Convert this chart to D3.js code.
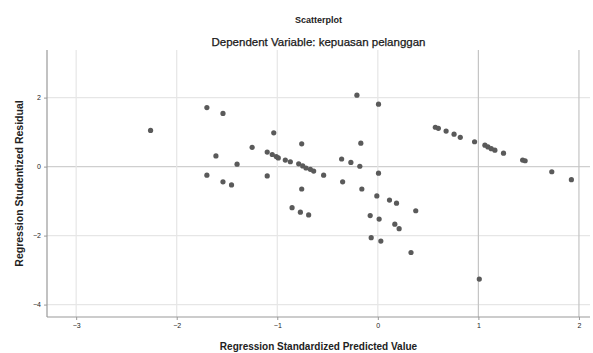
<!DOCTYPE html>
<html>
<head>
<meta charset="utf-8">
<script src="https://cdn.jsdelivr.net/npm/d3@7"></script>
<style>
  body { margin: 0; background: #fff; }
  text { font-family: "Liberation Sans", Arial, sans-serif; fill: #222; }
</style>
</head>
<body>
<div id="chart"></div>
<script>
// predicted (standardized) values and studentized residuals
const predicted = [
  -2.26, -1.70, -1.54, -1.035, -1.25, -1.61, -1.40, -1.10, -1.05, -1.01,
  -0.99, -0.92, -0.87, -0.787, -0.747, -0.714, -0.671, -0.638, -0.539, -0.757,
  -1.70, -1.54, -1.455, -1.10, -0.757, -0.36, -0.268, -0.179, -0.169, -0.208,
  0.007, 0.007, -0.35, -0.159, -0.01, 0.116, 0.186, -0.853, -0.77, -0.688,
  -0.076, 0.013, 0.169, 0.212, -0.066, 0.03, 0.33, 0.377, 1.009, 0.572,
  0.602, 0.679, 0.758, 0.82, 0.962, 1.065, 1.095, 1.128, 1.164, 1.25,
  1.44, 1.465, 1.73, 1.925
];
const residual = [
  1.05, 1.71, 1.54, 0.98, 0.56, 0.31, 0.07, 0.42, 0.35, 0.29,
  0.25, 0.19, 0.14, 0.08, 0.02, -0.04, -0.08, -0.13, -0.25, 0.66,
  -0.25, -0.44, -0.53, -0.27, -0.65, 0.22, 0.12, 0.01, 0.68, 2.07,
  1.81, -0.19, -0.44, -0.65, -0.85, -0.97, -1.06, -1.19, -1.32, -1.40,
  -1.42, -1.52, -1.67, -1.80, -2.06, -2.16, -2.49, -1.28, -3.26, 1.14,
  1.11, 1.03, 0.94, 0.85, 0.72, 0.62, 0.57, 0.52, 0.475, 0.39,
  0.19, 0.17, -0.15, -0.38
];
const xTicks = [-3, -2, -1, 0, 1, 2];
const yTicks = [2, 0, -2, -4];

const width = 593, height = 353;
const plotL = 47, plotR = 590, plotT = 50, plotB = 317;

const svg = d3.select("#chart").append("svg")
  .attr("width", width)
  .attr("height", height);

const x = d3.scaleLinear().domain([-3.29, 2.11]).range([plotL, plotR]);
const y = d3.scaleLinear().domain([-4.36, 3.38]).range([plotB, plotT]);

// grid lines
svg.append("g").selectAll("line")
  .data(yTicks)
  .join("line")
  .attr("x1", plotL).attr("x2", plotR)
  .attr("y1", d => y(d)).attr("y2", d => y(d))
  .attr("stroke", d => d === 0 ? "#cfcfcf" : "#e6e6e6")
  .attr("stroke-width", 1.2);

svg.append("g").selectAll("line")
  .data(xTicks)
  .join("line")
  .attr("x1", d => x(d)).attr("x2", d => x(d))
  .attr("y1", plotT).attr("y2", plotB)
  .attr("stroke", d => d >= 1 ? "#c4c4c4" : "#e6e6e6")
  .attr("stroke-width", 1.2);

// axes
const xAxis = svg.append("g")
  .attr("transform", `translate(0,${plotB})`)
  .call(d3.axisBottom(x).tickValues(xTicks).tickSize(3).tickFormat(d3.format("d")));
const yAxis = svg.append("g")
  .attr("transform", `translate(${plotL},0)`)
  .call(d3.axisLeft(y).tickValues(yTicks).tickSize(3).tickFormat(d3.format("d")));

[xAxis, yAxis].forEach(a => {
  a.select(".domain").attr("stroke", "#999").attr("stroke-width", 1.2);
  a.selectAll(".tick line").attr("stroke", "#999");
  a.selectAll(".tick text")
    .attr("font-size", 7)
    .attr("font-family", "Liberation Sans, Arial, sans-serif")
    .attr("fill", "#555");
});
xAxis.select(".domain").attr("d", `M${plotL},0H${plotR}`);
yAxis.select(".domain").attr("d", `M0,${plotT}V${plotB}`);

// points
svg.append("g").selectAll("circle")
  .data(predicted.map((p, i) => [p, residual[i]]))
  .join("circle")
  .attr("cx", d => x(d[0]))
  .attr("cy", d => y(d[1]))
  .attr("r", 2.6)
  .attr("fill", "#5a5a5a");

// titles
const cx = (plotL + plotR) / 2;
svg.append("text")
  .attr("x", cx).attr("y", 23)
  .attr("text-anchor", "middle")
  .attr("font-size", 9).attr("font-weight", "bold")
  .text("Scatterplot");
svg.append("text")
  .attr("x", cx).attr("y", 46)
  .attr("text-anchor", "middle")
  .attr("font-size", 11.5)
  .attr("fill", "#111")
  .attr("stroke", "#111").attr("stroke-width", 0.25)
  .text("Dependent Variable: kepuasan pelanggan");

svg.append("text")
  .attr("x", cx).attr("y", 350)
  .attr("text-anchor", "middle")
  .attr("font-size", 10).attr("font-weight", "bold")
  .text("Regression Standardized Predicted Value");

svg.append("text")
  .attr("transform", `translate(23,${(plotT + plotB) / 2}) rotate(-90)`)
  .attr("text-anchor", "middle")
  .attr("font-size", 10.5).attr("font-weight", "bold")
  .text("Regression Studentized Residual");
</script>
</body>
</html>
